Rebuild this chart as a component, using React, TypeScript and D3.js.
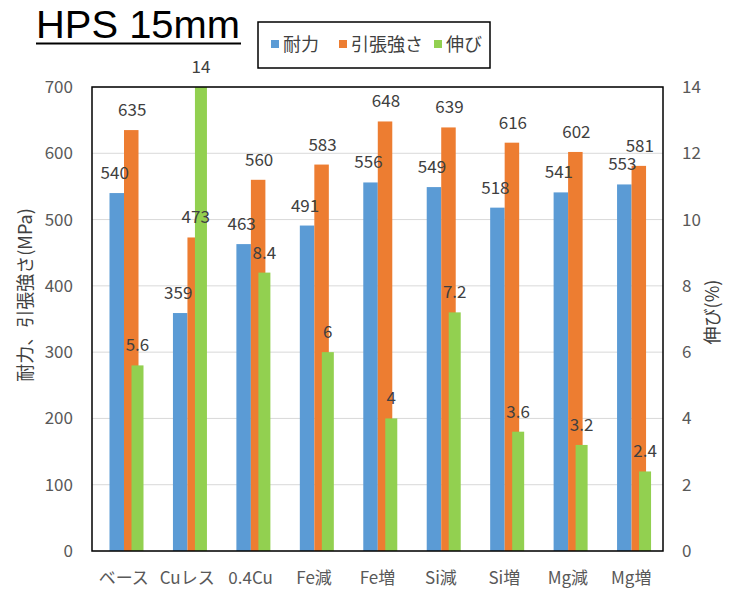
import React from 'react';
import * as d3 from 'd3';

const categories = ['ベース', 'Cuレス', '0.4Cu', 'Fe減', 'Fe増', 'Si減', 'Si増', 'Mg減', 'Mg増'];
const proofStress = [540, 359, 463, 491, 556, 549, 518, 541, 553];
const tensileStrength = [635, 473, 560, 583, 648, 639, 616, 602, 581];
const elongation = [5.6, 14, 8.4, 6, 4, 7.2, 3.6, 3.2, 2.4];
const leftTicks = [0, 100, 200, 300, 400, 500, 600, 700];
const rightTicks = [0, 2, 4, 6, 8, 10, 12, 14];
const legendNames = ['耐力', '引張強さ', '伸び'];

const colors = ['#5B9BD5', '#ED7D31', '#92D050'];
const font = '"Noto Sans CJK JP", "Noto Sans", sans-serif';

const App: React.FC = () => {
    const width = 735;
    const height = 589;
    const left = 92, right = 663, top = 87, bottom = 551;

    const x = d3.scaleBand<string>().domain(categories).range([left, right]);
    // primary series (blue, orange) side by side inside each band
    const sub = d3.scaleBand<number>().domain([0, 1]).range([17.5, 46.5]);
    const yL = d3.scaleLinear().domain([0, 700]).range([bottom, top]);
    const yR = d3.scaleLinear().domain([0, 14]).range([bottom, top]);
    const greenOffset = 39.5;
    const greenWidth = 12;

    const primary = [proofStress, tensileStrength];

    return (
        <svg width={width} height={height} style={{ position: 'absolute', left: 0, top: 0, background: '#fff' }}
            fontFamily={font}>
            {/* title */}
            <text x={36} y={38} fontFamily='"Liberation Sans", Arial, sans-serif' fontSize={38} textLength={204}
                lengthAdjust="spacingAndGlyphs" fill="#000">HPS 15mm</text>
            <line x1={36} x2={241} y1={43.5} y2={43.5} stroke="#000" strokeWidth={2} />

            {/* legend */}
            <rect x={258} y={22} width={232} height={46} fill="#fff" stroke="#000" strokeWidth={1.5} />
            {legendNames.map((name, i) => {
                const lx = [271, 339, 434][i];
                return (
                    <g key={name}>
                        <rect x={lx} y={40} width={8} height={8} fill={colors[i]} />
                        <text x={lx + 12} y={51} fontSize={18} fill="#404040">{name}</text>
                    </g>
                );
            })}

            {/* gridlines */}
            {leftTicks.map(t => (
                <line key={t} x1={left} x2={right} y1={yL(t)} y2={yL(t)} stroke="#d9d9d9" strokeWidth={1} />
            ))}

            {/* primary bars */}
            {primary.map((series, s) =>
                series.map((v, i) => (
                    <rect key={`${s}-${i}`} x={(x(categories[i]) as number) + (sub(s) as number)} y={yL(v)}
                        width={sub.bandwidth()} height={bottom - yL(v)} fill={colors[s]} />
                ))
            )}
            {/* secondary bars */}
            {elongation.map((v, i) => (
                <rect key={`g-${i}`} x={(x(categories[i]) as number) + greenOffset} y={yR(v)}
                    width={greenWidth} height={bottom - yR(v)} fill={colors[2]} />
            ))}

            {/* data labels */}
            {primary.map((series, s) =>
                series.map((v, i) => (
                    <text key={`l${s}-${i}`} x={(x(categories[i]) as number) + (sub(s) as number) + sub.bandwidth() / 2 + (s === 0 ? -2 : 1)}
                        y={yL(v) - 14} textAnchor="middle" fontSize={17} fill="#404040">{v}</text>
                ))
            )}
            {elongation.map((v, i) => (
                <text key={`lg-${i}`} x={(x(categories[i]) as number) + greenOffset + greenWidth / 2}
                    y={yR(v) - 14} textAnchor="middle" fontSize={17} fill="#404040">{v}</text>
            ))}

            {/* frame */}
            <rect x={left} y={top} width={right - left} height={bottom - top} fill="none" stroke="#000" strokeWidth={1.5} />

            {/* left axis */}
            {leftTicks.map(t => (
                <text key={`lt${t}`} x={73} y={yL(t) + 6} textAnchor="end" fontSize={17} fill="#595959">{t}</text>
            ))}
            {/* right axis */}
            {rightTicks.map(t => (
                <text key={`rt${t}`} x={682} y={yR(t) + 6} fontSize={17} fill="#595959">{t}</text>
            ))}
            {/* category labels */}
            {categories.map(c => (
                <text key={c} x={(x(c) as number) + x.bandwidth() / 2} y={584} textAnchor="middle" fontSize={17} fill="#595959">{c}</text>
            ))}

            {/* axis titles */}
            <text transform={`translate(32, 295) rotate(-90)`} textAnchor="middle" fontSize={18} fill="#404040">耐力、引張強さ(MPa)</text>
            <text transform={`translate(719, 312) rotate(-90)`} textAnchor="middle" fontSize={18} fill="#404040">伸び(%)</text>
        </svg>
    );
};

export default App;
